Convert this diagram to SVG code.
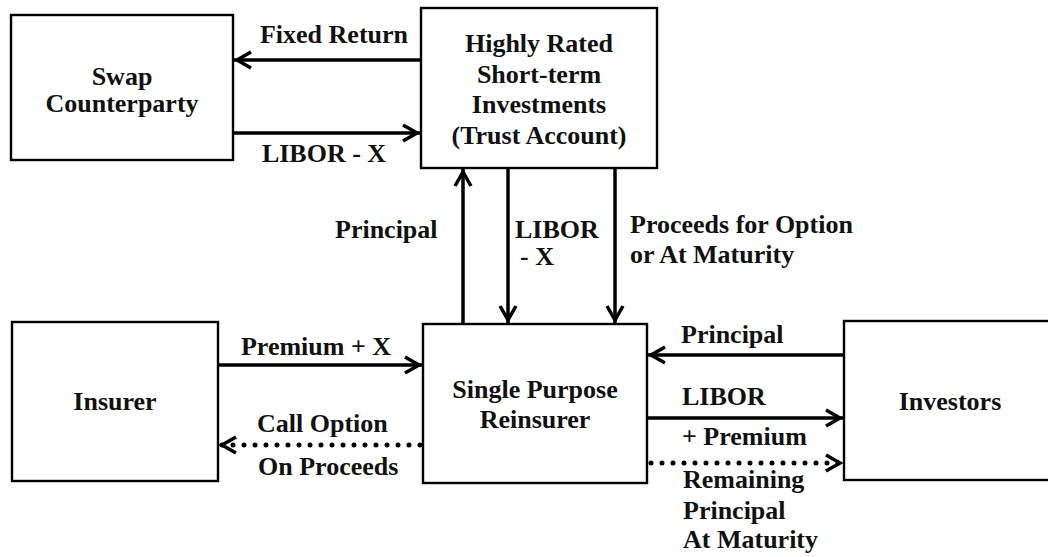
<svg xmlns="http://www.w3.org/2000/svg" width="1048" height="557" viewBox="0 0 1048 557">
<defs>
<style>
.box{fill:#fff;stroke:#000;stroke-width:2.4}
.t{font-weight:bold;font-size:26px;fill:#111}
.m{text-anchor:middle}
.ln{stroke:#000;stroke-width:3.5;fill:none}
.dot{stroke:#000;stroke-width:5;fill:none;stroke-dasharray:0 11;stroke-linecap:round}
</style>
<marker id="ah" markerUnits="userSpaceOnUse" markerWidth="24" markerHeight="24" viewBox="-20 -12 24 24" refX="0" refY="0" orient="auto" overflow="visible">
<path d="M-17,-8 L-3,0 L-17,8" fill="none" stroke="#000" stroke-width="3.5" stroke-dasharray="none" stroke-linecap="butt"/>
</marker>
</defs>
<rect width="1048" height="557" fill="#fff"/>
<g font-family="'Liberation Serif', 'DejaVu Serif', serif">
<g id="connectors">
<line class="ln" x1="421" y1="60" x2="234" y2="60" marker-end="url(#ah)"/>
<line class="ln" x1="233" y1="133" x2="420" y2="133" marker-end="url(#ah)"/>
<line class="ln" x1="463" y1="324" x2="463" y2="169" marker-end="url(#ah)"/>
<line class="ln" x1="508" y1="168" x2="508" y2="323" marker-end="url(#ah)"/>
<line class="ln" x1="615" y1="168" x2="615" y2="323" marker-end="url(#ah)"/>
<line class="ln" x1="218" y1="365" x2="422" y2="365" marker-end="url(#ah)"/>
<line class="dot" x1="420" y1="445" x2="219" y2="445" marker-end="url(#ah)"/>
<line class="ln" x1="844" y1="355" x2="648" y2="355" marker-end="url(#ah)"/>
<line class="ln" x1="647" y1="418" x2="843" y2="418" marker-end="url(#ah)"/>
<line class="dot" x1="651" y1="463" x2="843" y2="463" marker-end="url(#ah)"/>
<text class="t m" x="334" y="43">Fixed Return</text>
<text class="t m" x="324" y="162">LIBOR - X</text>
<text class="t" x="335" y="238">Principal</text>
<text class="t" x="515" y="238">LIBOR</text>
<text class="t" x="520" y="265">- X</text>
<text class="t" x="630" y="233">Proceeds for Option</text>
<text class="t" x="630" y="263">or At Maturity</text>
<text class="t m" x="316" y="355">Premium + X</text>
<text class="t" x="257" y="432">Call Option</text>
<text class="t" x="258" y="475">On Proceeds</text>
<text class="t" x="681" y="343">Principal</text>
<text class="t" x="682" y="405">LIBOR</text>
<text class="t" x="682" y="445">+ Premium</text>
<text class="t" x="683" y="488">Remaining</text>
<text class="t" x="683" y="519">Principal</text>
<text class="t" x="683" y="548">At Maturity</text>
</g>
<g id="swap">
<rect class="box" x="11" y="15" width="222" height="145"/>
<text class="t m" x="122" y="85">Swap</text>
<text class="t m" x="122" y="112">Counterparty</text>
</g>
<g id="trust">
<rect class="box" x="421" y="8" width="236" height="160"/>
<text class="t m" x="539" y="52">Highly Rated</text>
<text class="t m" x="539" y="83">Short-term</text>
<text class="t m" x="539" y="113">Investments</text>
<text class="t m" x="539" y="144">(Trust Account)</text>
</g>
<g id="insurer">
<rect class="box" x="12" y="322" width="206" height="159"/>
<text class="t m" x="115" y="410">Insurer</text>
</g>
<g id="spr">
<rect class="box" x="423" y="324" width="224" height="159"/>
<text class="t m" x="535" y="398">Single Purpose</text>
<text class="t m" x="535" y="428">Reinsurer</text>
</g>
<g id="investors">
<rect class="box" x="844" y="321" width="214" height="159"/>
<text class="t m" x="950" y="410">Investors</text>
</g>
</g>
</svg>
